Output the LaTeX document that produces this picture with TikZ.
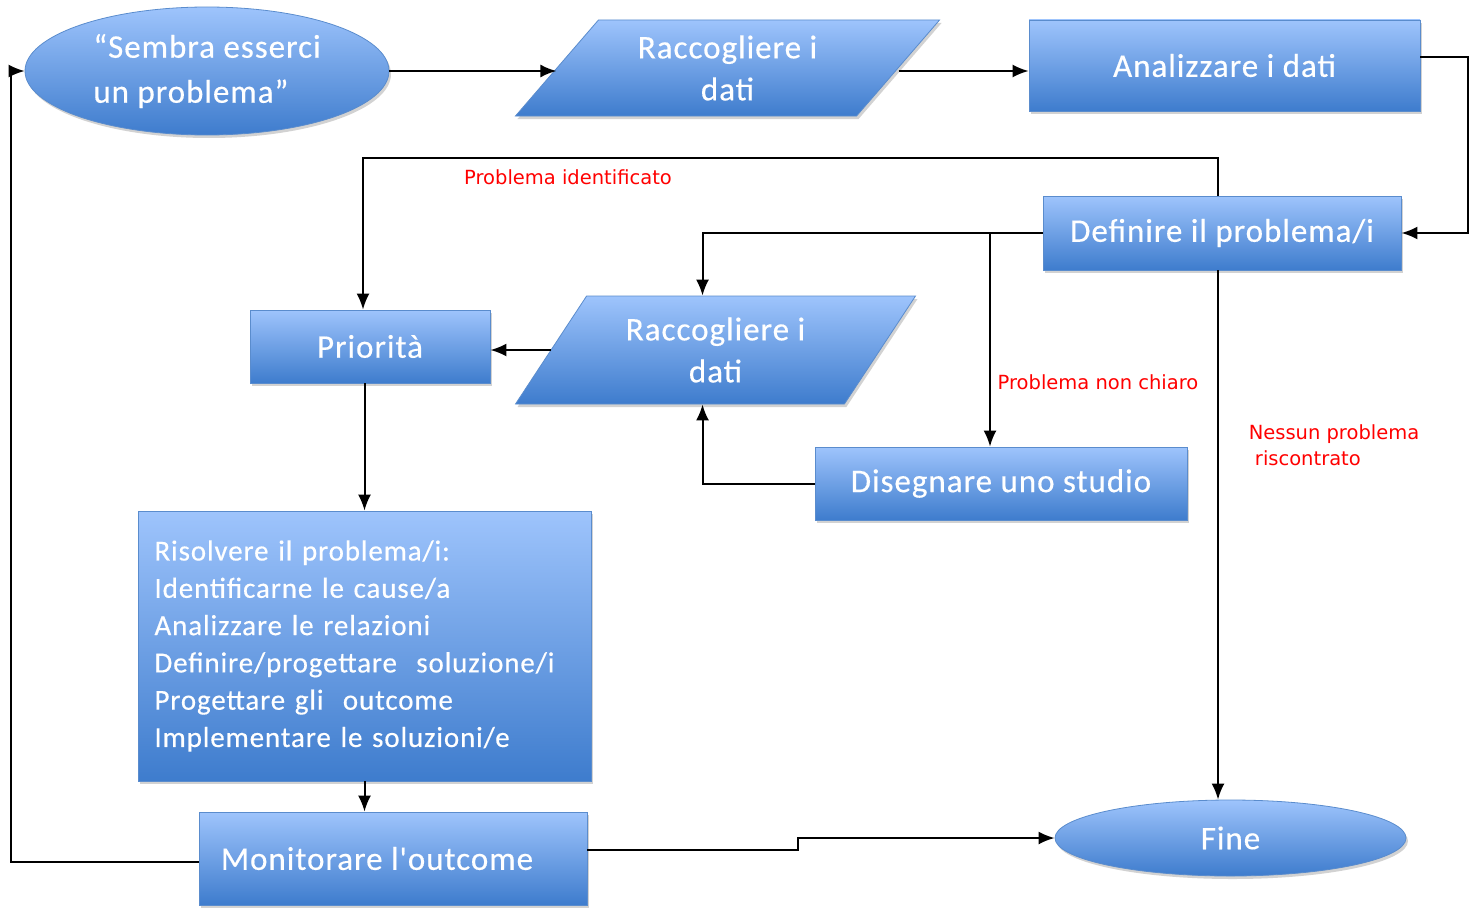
\documentclass[tikz,border=0pt]{standalone}
\usepackage{fontspec}
\usetikzlibrary{arrows.meta,shapes.geometric,shadows}
\newfontfamily\carl[LetterSpace=3,FakeBold=0.4]{Carlito}
\newfontfamily\lblfont{DejaVu Sans}
\definecolor{boxtop}{RGB}{158,196,252}
\definecolor{boxbot}{RGB}{62,124,205}
\definecolor{boxedge}{RGB}{90,140,205}
\definecolor{lblred}{RGB}{255,0,0}
\tikzset{
  shp/.style={draw=boxedge, line width=0.8pt, top color=boxtop, bottom color=boxbot,
    drop shadow={opacity=0.35, shadow xshift=2pt, shadow yshift=-3pt},
    text=white, inner sep=0pt},
  rbox/.style={shp, rectangle},
  ell/.style={shp, ellipse},
  para/.style={shp, trapezium, trapezium stretches=true},
  bigfont/.style={font=\carl\fontsize{33}{42}\selectfont},
  ellfont/.style={font=\carl\fontsize{33}{45}\selectfont},
  listfont/.style={font=\carl\fontsize{29}{37.3}\selectfont},
  lbl/.style={text=lblred, font=\lblfont\fontsize{19.5}{26}\selectfont, inner sep=0pt},
  arr/.style={draw=black, line width=2pt, -{Latex[length=16pt,width=13pt]}},
}
\begin{document}
\begin{tikzpicture}[x=1pt,y=-1pt]
\useasboundingbox (0,0) rectangle (1474,907);
\fill[white] (0,0) rectangle (1474,907);

% shapes
\node[ell, ellfont, minimum width=364, minimum height=128, align=left] (e1) at (207,71)
  {“Sembra esserci\\un problema”};
\node[para, bigfont, trapezium left angle=48.5, trapezium right angle=131.5,
  minimum width=425, minimum height=96, align=center] (p1) at (727.5,68)
  {Raccogliere i\\dati};
\node[rbox, bigfont, minimum width=391, minimum height=91] (r1) at (1224.5,65.5) {Analizzare i dati};
\node[rbox, bigfont, minimum width=358, minimum height=74] (r2) at (1222,233) {Definire il problema/i};
\node[para, bigfont, trapezium left angle=52.8, trapezium right angle=127.2,
  minimum width=401, minimum height=108, align=center] (p2) at (715.5,350)
  {Raccogliere i\\dati};
\node[rbox, bigfont, minimum width=240, minimum height=73] (pr) at (370,346.5) {Priorità};
\node[rbox, bigfont, minimum width=372, minimum height=73] (ds) at (1001,483.5) {Disegnare uno studio};
\node[rbox, listfont, minimum width=453, minimum height=270, align=left, text width=420] (big) at (364.5,646)
  {Risolvere il problema/i:\\Identificarne le cause/a\\Analizzare le relazioni\\Definire/progettare\ \ soluzione/i\\Progettare gli\ \ outcome\\Implementare le soluzioni/e};
\node[rbox, bigfont, minimum width=388, minimum height=93] (mon) at (393,858.5) {\hspace*{-32pt}Monitorare l'outcome};
\node[ell, bigfont, minimum width=351, minimum height=76] (fine) at (1230.5,838) {Fine};

% labels
\node[lbl] (l1) at (568,177) {Problema identificato};
\node[lbl] (l2) at (1098,382) {Problema non chiaro};
\node[lbl, align=left] (l3) at (1334,445) {Nessun problema\\\ riscontrato};

% helper coordinates
\coordinate (prin) at ([xshift=-7pt]pr.north);
\coordinate (p2in) at ([xshift=-13pt]p2.north);
\coordinate (p2out) at ([xshift=-13pt]p2.south);
\coordinate (dsin) at ([xshift=-11pt]ds.north);
\coordinate (r2top) at ([xshift=-4pt]r2.north);
\coordinate (r2bot) at ([xshift=-4pt]r2.south);

% connectors
\draw[arr] (e1.east) -- (e1.east -| p1.west);
\draw[arr] (p1.east |- e1.east) -- (r1.west |- e1.east);
\draw[arr] ([yshift=8.5pt]r1.east) -- ++(48,0) |- (r2.east);
\draw[arr] (r2top) -- ++(0,-38) -| (prin);
\draw[arr] (r2.west) -| (p2in);
\draw[arr] (dsin |- r2.west) -- (dsin);
\draw[arr] (ds.west) -| (p2out);
\draw[arr] (p2.west) -- (p2.west -| pr.east);
\draw[arr] (r2bot) -- (r2bot |- fine.north);
\draw[arr] (big.north |- pr.south) -- (big.north);
\draw[arr] (big.south) -- (big.south |- mon.north);
\draw[arr] ([yshift=8.5pt]mon.east) -- ++(211,0) |- (fine.west);
\draw[arr] ([yshift=-3.5pt]mon.west) -- ++(-188,0) |- (e1.west);
\end{tikzpicture}
\end{document}
